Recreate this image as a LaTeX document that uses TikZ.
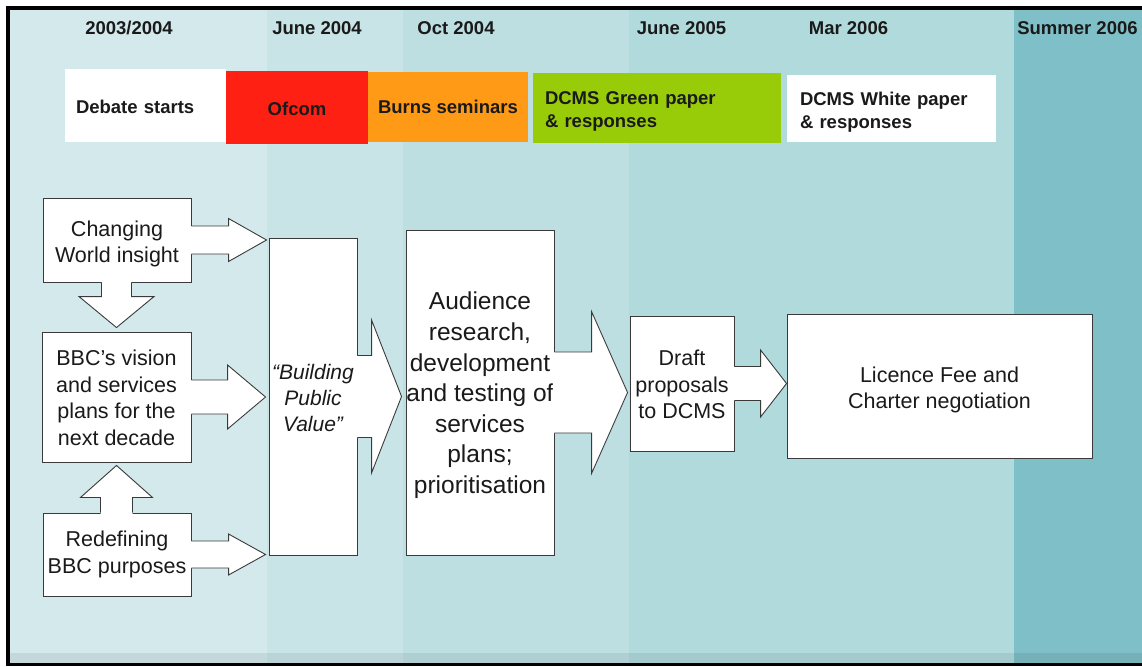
\documentclass[tikz,border=0pt]{standalone}
\usepackage{fontspec}
\setmainfont{Liberation Sans}
\usetikzlibrary{calc}
\definecolor{bandA}{HTML}{D3E9EC}
\definecolor{bandB}{HTML}{C9E4E7}
\definecolor{bandC}{HTML}{BDDFE2}
\definecolor{bandD}{HTML}{B1DADD}
\definecolor{bandE}{HTML}{7FBFC8}
\definecolor{lineC}{HTML}{3A3A3A}
\definecolor{txtC}{HTML}{1A1A1A}
\definecolor{ofcomC}{HTML}{FF2014}
\definecolor{burnsC}{HTML}{FF9A17}
\definecolor{greenC}{HTML}{99CC08}
% lowered multi-line text block: [column type]{shift}{lines}
\newcommand{\lowr}[3][c]{\raisebox{-#2}[\height][\depth]{\begin{tabular}{@{}#1@{}}#3\end{tabular}}}
% right block arrow: start node anchor, tip, shaft half, head half, head length
\newcommand{\rblk}[5]{%
  \fill[white] ($(#1 |- #2)+(-1.5,-#3)$) -- ($(#2)+(-#5,-#3)$) -- ($(#2)+(-#5,-#4)$) -- (#2) -- ($(#2)+(-#5,#4)$) -- ($(#2)+(-#5,#3)$) -- ($(#1 |- #2)+(-1.5,#3)$) -- cycle;
  \draw[aline] ($(#1 |- #2)+(0,-#3)$) -- ($(#2)+(-#5,-#3)$) -- ($(#2)+(-#5,-#4)$) -- (#2) -- ($(#2)+(-#5,#4)$) -- ($(#2)+(-#5,#3)$) -- ($(#1 |- #2)+(0,#3)$);
}
% vertical block arrow: start, tip, shaft half, head half, signed head length, signed overlap
\newcommand{\vblk}[6]{%
  \fill[white] ($(#1 -| #2)+(-#3,#6)$) -- ($(#2)+(-#3,#5)$) -- ($(#2)+(-#4,#5)$) -- (#2) -- ($(#2)+(#4,#5)$) -- ($(#2)+(#3,#5)$) -- ($(#1 -| #2)+(#3,#6)$) -- cycle;
  \draw[aline] ($(#1 -| #2)+(-#3,0)$) -- ($(#2)+(-#3,#5)$) -- ($(#2)+(-#4,#5)$) -- (#2) -- ($(#2)+(#4,#5)$) -- ($(#2)+(#3,#5)$) -- ($(#1 -| #2)+(#3,0)$);
}
\begin{document}
\begin{tikzpicture}[x=1pt,y=-1pt,
  aline/.style={draw=lineC, line width=0.9pt, line join=miter},
  pbox/.style={draw=lineC, fill=white, line width=0.9pt, inner sep=0pt, text=txtC,
    font=\fontsize{21.5}{26.5}\selectfont},
  yearlbl/.style={anchor=base, inner sep=0pt, text=txtC, font=\bfseries\fontsize{18.5}{22}\selectfont},
  bar/.style={inner sep=0pt, text=txtC, font=\bfseries\fontsize{18.5}{23}\selectfont},
  barleft/.style={bar, align=left, inner ysep=0pt}
]
\useasboundingbox (0,0) rectangle (1142,666);
% frame and bands
\fill[white] (0,0) rectangle (1142,666);
\fill[black] (6,6) rectangle (1142,666);
\fill[bandA] (10,10) rectangle (267,663);
\fill[bandB] (267,10) rectangle (403,663);
\fill[bandC] (403,10) rectangle (629,663);
\fill[bandD] (629,10) rectangle (1014,663);
\fill[bandE] (1014,10) rectangle (1142,663);
\fill[black, opacity=0.07] (10,653) rectangle (1142,663);

% year labels
\node[yearlbl] (y1) at (129,35) {2003/2004};
\node[yearlbl] (y2) at (317,35) {June 2004};
\node[yearlbl] (y3) at (456,35) {Oct 2004};
\node[yearlbl] (y4) at (681.5,35) {June 2005};
\node[yearlbl] (y5) at (848.5,35) {Mar 2006};
\node[yearlbl] (y6) at (1077.5,35) {Summer 2006};

% timeline bars
\node[barleft, fill=white, minimum height=73pt, text width=139pt, inner xsep=11pt] (debate) at (145.5,105.5) {\lowr[l]{3pt}{Debate starts}};
\node[bar, fill=ofcomC, minimum height=73pt, minimum width=142pt] (ofcom) at (297,107.5) {\lowr{3pt}{Ofcom}};
\node[bar, fill=burnsC, minimum height=70pt, minimum width=160pt] (burns) at (448,107) {\lowr{2pt}{Burns seminars}};
\node[barleft, fill=greenC, minimum height=70pt, text width=224pt, inner xsep=12pt] (green) at (657,108) {\lowr[l]{3pt}{DCMS Green paper\\\& responses}};
\node[barleft, fill=white, minimum height=67pt, text width=183pt, inner xsep=13pt] (white) at (891.5,108.5) {\lowr[l]{3.5pt}{DCMS White paper\\\& responses}};

% process boxes
\node[pbox, minimum width=148pt, minimum height=84pt] (cw) at (117,240) {\lowr{4pt}{Changing\\World insight}};
\node[pbox, minimum width=149pt, minimum height=130pt] (bbc) at (116.5,397) {\lowr{3pt}{BBC’s vision\\and services\\plans for the\\next decade}};
\node[pbox, minimum width=148pt, minimum height=83pt] (rd) at (117,554.5) {\lowr{0pt}{Redefining\\BBC purposes}};
\node[pbox, minimum width=88pt, minimum height=317pt, font=\itshape\fontsize{21}{26}\selectfont] (bpv) at (313,396.5) {\lowr{4pt}{“Building\\Public\\Value”}};
\node[pbox, minimum width=148pt, minimum height=325pt, font=\fontsize{24.5}{30.6}\selectfont] (aud) at (480,392.5) {\lowr{3pt}{Audience\\research,\\development\\and testing of\\services\\plans;\\prioritisation}};
\node[pbox, minimum width=104pt, minimum height=135pt] (draft) at (682,383.5) {\lowr{3.5pt}{Draft\\proposals\\to DCMS}};
\node[pbox, minimum width=305pt, minimum height=144pt] (lic) at (939.5,386) {\lowr{4pt}{Licence Fee and\\Charter negotiation}};

% arrow tips
\coordinate (t1) at ([xshift=-2pt]bpv.west |- cw.east);
\coordinate (t2) at ([xshift=-3pt]bpv.west |- bbc.east);
\coordinate (t3) at ([xshift=-3pt]bpv.west |- rd.east);
\coordinate (t4) at ([yshift=4pt]bbc.north);
\coordinate (t5) at ([yshift=-3pt]bbc.south);
\coordinate (t6) at ([xshift=-4pt]aud.west |- bpv.east);
\coordinate (t7) at ([xshift=-2pt]draft.west |- aud.east);
\coordinate (t8) at (lic.west |- draft.east);

% block arrows
\rblk{cw.east}{t1}{14}{21.5}{38}
\rblk{bbc.east}{t2}{17}{32}{38}
\rblk{rd.east}{t3}{13.5}{20.5}{37}
\vblk{cw.south}{t4}{15}{37.5}{-31}{-1.5}
\vblk{rd.north}{t5}{16}{36}{32}{1.5}
\rblk{bpv.east}{t6}{41}{76.5}{30}
\rblk{aud.east}{t7}{40.5}{81}{36}
\rblk{draft.east}{t8}{17}{33.5}{26}
\end{tikzpicture}
\end{document}
